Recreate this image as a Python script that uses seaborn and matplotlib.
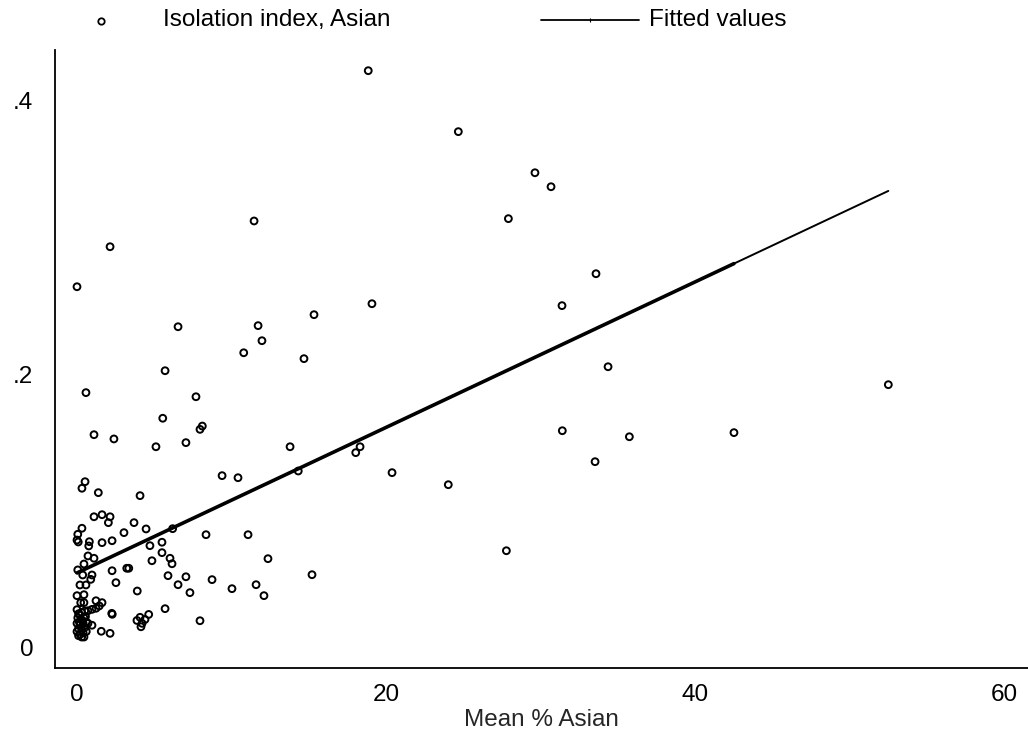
import numpy as np
import pandas as pd
import matplotlib
matplotlib.use("Agg")
import matplotlib.pyplot as plt
from matplotlib.lines import Line2D
import seaborn as sns

# Mean % Asian (x) and Asian isolation index (y), one entry per area
mean_pct_asian = [
    18.85, 24.68, 29.64, 30.68, 27.92, 11.46, 2.14, 33.59, 0.00, 19.09,
    31.39, 15.34, 6.54, 11.72, 11.97, 10.79, 14.69, 34.37, 5.70, 52.51,
    0.58, 7.70, 5.55, 8.11, 7.96, 31.41, 42.52, 35.75, 1.10, 2.39,
    7.05, 5.11, 13.79, 18.32, 18.04, 33.53, 14.32, 20.39, 9.39, 10.42,
    0.52, 24.03, 0.32, 1.38, 4.08, 1.62, 1.10, 2.14, 2.03, 3.69,
    0.32, 4.47, 6.19, 3.04, 0.05, 8.35, 11.07, 0.00, 0.08, 0.80,
    1.62, 2.27, 5.50, 0.76, 4.72, 5.50, 27.79, 0.71, 1.10, 6.02,
    12.36, 6.15, 4.85, 0.45, 3.22, 3.35, 2.27, 0.37, 0.97, 5.89,
    7.05, 15.21, 0.89, 8.74, 2.52, 0.19, 0.58, 6.54, 11.59, 10.03,
    3.90, 7.31, 12.10, 0.00, 0.45, 1.23, 1.62, 0.24, 0.45, 1.44,
    1.23, 0.97, 0.71, 5.70, 2.25, 2.28, 4.64, 4.08, 4.40, 3.88,
    4.21, 4.14, 7.96, 0.71, 0.97, 1.57, 2.14, 0.05,
    0.00, 0.10, 0.30, 0.50, 0.05, 0.25, 0.45, 0.00, 0.20, 0.40,
    0.60, 0.10, 0.30, 0.50, 0.00, 0.20, 0.40, 0.10, 0.30, 0.45,
    0.60, 0.20, 0.35, 0.15, 0.55,
]
isolation_index = [
    0.4214, 0.3769, 0.3469, 0.3367, 0.3134, 0.3117, 0.2929, 0.2732, 0.2637, 0.2513,
    0.2499, 0.2433, 0.2345, 0.2353, 0.2243, 0.2155, 0.2112, 0.2053, 0.2024, 0.1922,
    0.1864, 0.1834, 0.1677, 0.1620, 0.1596, 0.1586, 0.1572, 0.1542, 0.1557, 0.1526,
    0.1499, 0.1469, 0.1469, 0.1469, 0.1426, 0.1360, 0.1292, 0.1280, 0.1258, 0.1243,
    0.1214, 0.1192, 0.1166, 0.1134, 0.1112, 0.0973, 0.0958, 0.0958, 0.0915, 0.0915,
    0.0874, 0.0869, 0.0871, 0.0842, 0.0830, 0.0827, 0.0827, 0.0788, 0.0774, 0.0776,
    0.0769, 0.0783, 0.0772, 0.0745, 0.0747, 0.0696, 0.0710, 0.0672, 0.0655, 0.0655,
    0.0652, 0.0615, 0.0637, 0.0613, 0.0582, 0.0582, 0.0564, 0.0533, 0.0533, 0.0528,
    0.0520, 0.0535, 0.0501, 0.0499, 0.0477, 0.0460, 0.0460, 0.0462, 0.0462, 0.0433,
    0.0416, 0.0404, 0.0382, 0.0382, 0.0389, 0.0345, 0.0331, 0.0331, 0.0331, 0.0307,
    0.0290, 0.0282, 0.0272, 0.0287, 0.0253, 0.0246, 0.0245, 0.0224, 0.0208, 0.0201,
    0.0180, 0.0155, 0.0199, 0.0180, 0.0166, 0.0122, 0.0107, 0.0570,
    0.028, 0.025, 0.026, 0.027, 0.022, 0.021, 0.022, 0.018, 0.017, 0.018,
    0.019, 0.014, 0.013, 0.015, 0.012, 0.010, 0.011, 0.009, 0.008, 0.008,
    0.012, 0.024, 0.020, 0.019, 0.023,
]

# Linear fit of isolation index on mean % Asian
fit_intercept = 0.0548
fit_slope = 0.00531

x_ticks = [0, 20, 40, 60]
x_tick_labels = ["0", "20", "40", "60"]
y_ticks = [0, 0.2, 0.4]
y_tick_labels = ["0", ".2", ".4"]

x_label = "Mean % Asian"
scatter_label = "Isolation index, Asian"
fit_label = "Fitted values"

df = pd.DataFrame({"x": mean_pct_asian, "y": isolation_index})
df["fit"] = fit_intercept + fit_slope * df["x"]
df = df.sort_values("x")

sns.set_theme(style="white")
plt.rcParams["font.family"] = ["Liberation Sans", "DejaVu Sans"]
FS = 17.5

fig = plt.figure(figsize=(10.28, 7.35), dpi=100)
ax = fig.add_axes([55 / 1028, 67 / 735, 1 - 55 / 1028, (668 - 50) / 735])

sns.scatterplot(data=df, x="x", y="y", ax=ax, marker="o", s=24,
                facecolor="none", edgecolor="black", linewidth=1.4, legend=False)

# fitted line: dense stretch drawn heavier, last stretch lighter
dense = df[df["x"] <= 42.52]
tail = df[df["x"] >= 42.52]
sns.lineplot(data=dense, x="x", y="fit", ax=ax, color="black", lw=2.6,
             estimator=None, legend=False)
sns.lineplot(data=tail, x="x", y="fit", ax=ax, color="black", lw=1.4,
             estimator=None, legend=False)

ax.set_xlim(-1.424, 61.55)
ax.set_ylim(-0.0146, 0.4365)
ax.set_xticks(x_ticks)
ax.set_xticklabels(x_tick_labels)
ax.set_yticks(y_ticks)
ax.set_yticklabels(y_tick_labels)
ax.set_xlabel(x_label, fontsize=FS, labelpad=2)
ax.set_ylabel("")

for side in ["top", "right"]:
    ax.spines[side].set_visible(False)
for side in ["left", "bottom"]:
    ax.spines[side].set_color("black")
    ax.spines[side].set_linewidth(1.3)

ax.tick_params(axis="both", which="major", direction="out", length=9.5,
               width=1.0, color="black", labelsize=FS, labelcolor="black")
ax.tick_params(axis="x", pad=2)
ax.tick_params(axis="y", pad=6)
ax.grid(False)

# legend row across the top
fig.add_artist(Line2D([101 / 1028], [1 - 21 / 735], marker="o", markersize=4.6,
                      markerfacecolor="none", markeredgecolor="black",
                      markeredgewidth=1.3, linestyle="none",
                      transform=fig.transFigure))
fig.text(163 / 1028, 1 - 20 / 735, scatter_label, fontsize=FS,
         ha="left", va="center", color="black")
fig.add_artist(Line2D([541 / 1028, 639 / 1028], [1 - 20 / 735, 1 - 20 / 735],
                      color="black", lw=1.3, transform=fig.transFigure))
fig.add_artist(Line2D([590 / 1028], [1 - 20 / 735], marker="|", markersize=3,
                      markeredgecolor="black", markeredgewidth=0.8,
                      linestyle="none", transform=fig.transFigure))
fig.text(649 / 1028, 1 - 20 / 735, fit_label, fontsize=FS,
         ha="left", va="center", color="black")

fig.savefig("out.png", dpi=100, facecolor="white")
